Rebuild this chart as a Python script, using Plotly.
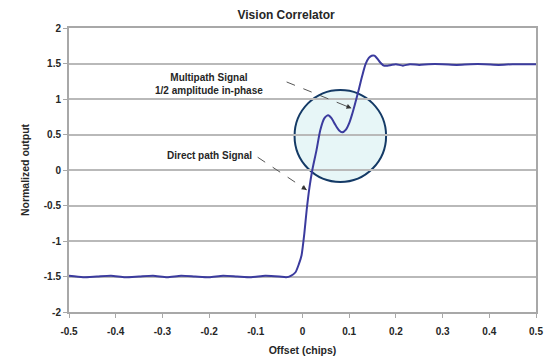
import plotly.graph_objects as go

# Correlator output vs. code offset (chips)
offset = [-0.5, -0.47, -0.44, -0.41, -0.38, -0.35, -0.32, -0.29, -0.26, -0.23,
          -0.2, -0.17, -0.14, -0.11, -0.08, -0.05, -0.035, -0.025, -0.015, -0.008,
          -0.002, 0.004, 0.009, 0.015, 0.021, 0.03, 0.038, 0.047, 0.055, 0.062,
          0.07, 0.078, 0.085, 0.093, 0.1, 0.106, 0.112, 0.12, 0.128, 0.135,
          0.142, 0.148, 0.154, 0.16, 0.167, 0.174, 0.182, 0.19, 0.2, 0.215,
          0.23, 0.25, 0.27, 0.3, 0.33, 0.36, 0.39, 0.42, 0.45, 0.48, 0.5]
output = [-1.49, -1.51, -1.5, -1.49, -1.51, -1.5, -1.49, -1.51, -1.49, -1.5,
          -1.51, -1.49, -1.5, -1.51, -1.49, -1.5, -1.51, -1.49, -1.44, -1.33,
          -1.2, -0.89, -0.56, -0.24, 0.0, 0.28, 0.56, 0.73, 0.77, 0.73,
          0.64, 0.56, 0.53, 0.57, 0.66, 0.78, 0.92, 1.12, 1.33, 1.49,
          1.58, 1.61, 1.61, 1.57, 1.51, 1.47, 1.47, 1.48, 1.49, 1.47,
          1.49, 1.48, 1.49, 1.49, 1.48, 1.49, 1.49, 1.48, 1.49, 1.49, 1.49]

x_ticks = [-0.5, -0.4, -0.3, -0.2, -0.1, 0, 0.1, 0.2, 0.3, 0.4, 0.5]
y_ticks = [-2, -1.5, -1, -0.5, 0, 0.5, 1, 1.5, 2]

# Callouts: (label, text position, arrow tail, arrow head)
callouts = [
    ("Multipath Signal<br>1/2 amplitude in-phase", (-0.2, 1.21), (-0.034, 1.24), (0.105, 0.87)),
    ("Direct path Signal", (-0.2, 0.21), (-0.096, 0.18), (0.009, -0.28)),
]
# Highlight ring around the multipath bump
ring_center = (0.081, 0.48)
ring_rx, ring_ry = 0.098, 0.648

FONT = "Liberation Sans, Arial, sans-serif"
INK = "#262626"

fig = go.Figure()
fig.add_trace(go.Scatter(
    x=offset, y=output, mode="lines",
    line=dict(color="#3b3b9e", width=2, shape="spline", smoothing=0.6),
    hoverinfo="skip", showlegend=False,
))

fig.add_shape(
    type="circle", xref="x", yref="y",
    x0=ring_center[0] - ring_rx, x1=ring_center[0] + ring_rx,
    y0=ring_center[1] - ring_ry, y1=ring_center[1] + ring_ry,
    fillcolor="#e7f6f7", line=dict(color="#143a66", width=2), layer="below",
)

for label, (tx, ty), (ax0, ay0), (hx, hy) in callouts:
    fig.add_shape(type="line", xref="x", yref="y", x0=ax0, y0=ay0, x1=hx, y1=hy,
                  line=dict(color="#555555", width=1, dash="dash"))
    fig.add_annotation(x=hx, y=hy, ax=hx - (hx - ax0) * 0.12, ay=hy - (hy - ay0) * 0.12,
                       xref="x", yref="y", axref="x", ayref="y", text="",
                       showarrow=True, arrowhead=2, arrowsize=1, arrowwidth=1,
                       arrowcolor="#333333")
    fig.add_annotation(x=tx, y=ty, xref="x", yref="y", text=label, showarrow=False,
                       xanchor="center", yanchor="middle",
                       font=dict(family=FONT, size=10, color=INK, weight="bold"))

fig.update_layout(
    width=547, height=356,
    margin=dict(l=69, r=9, t=28, b=44),
    paper_bgcolor="white", plot_bgcolor="white",
    title=dict(text="Vision Correlator", x=0.523, xanchor="center", y=0.958,
               yanchor="middle",
               font=dict(family=FONT, size=12, color=INK, weight="bold")),
    font=dict(family=FONT, size=10, color=INK),
)
fig.update_xaxes(
    range=[-0.5, 0.5], tickvals=x_ticks,
    ticktext=[f"{v:g}" for v in x_ticks],
    showgrid=False, zeroline=False, automargin=False,
    showline=True, linecolor="#a8a8a8", linewidth=2, mirror=True,
    ticks="outside", ticklen=4, tickcolor="#a8a8a8", ticklabelstandoff=5,
    title=dict(text="Offset (chips)",
               font=dict(size=10.5, color=INK, weight="bold")),
    tickfont=dict(size=10, color=INK, weight="bold"),
)
fig.update_yaxes(
    range=[-2, 2], tickvals=y_ticks,
    ticktext=[f"{v:g}" for v in y_ticks],
    showgrid=True, gridcolor="#b9b9b9", gridwidth=1.5, zeroline=False,
    showline=True, linecolor="#a8a8a8", linewidth=2, mirror=True,
    ticks="outside", ticklen=4, tickcolor="#a8a8a8",
    title=dict(text="Normalized output", standoff=12,
               font=dict(size=10.5, color=INK, weight="bold")),
    tickfont=dict(size=10, color=INK, weight="bold"),
)

fig.write_html("out.html")
